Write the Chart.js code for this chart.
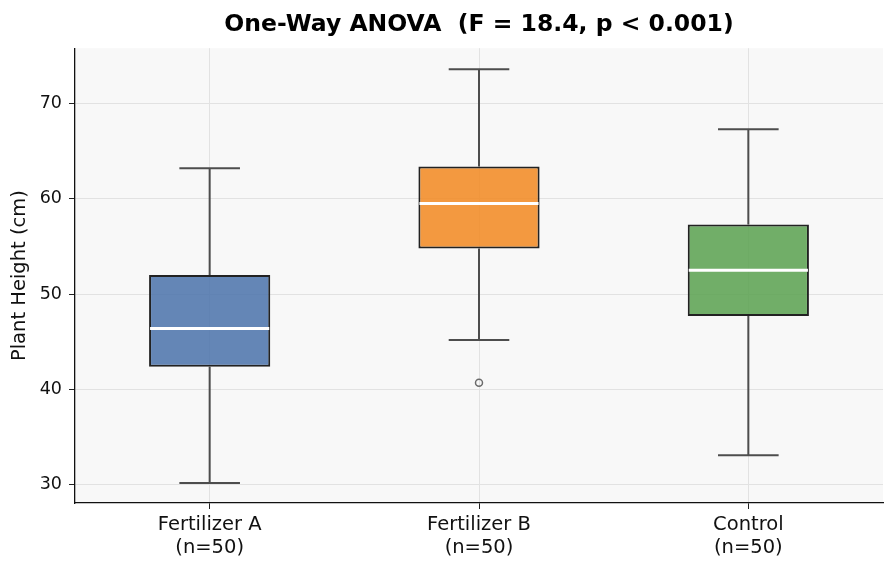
<!doctype html>
<html lang="en">
  <head>
    <meta charset="UTF-8" />
    <title>One-Way ANOVA box plot</title>
    <script src="https://cdn.jsdelivr.net/npm/chart.js"></script>
    <style>
      html, body { margin: 0; padding: 0; background: #fff; }
      .chart-container { position: relative; width: 896px; height: 570px; }
    </style>
  </head>
  <body>
    <div class="chart-container">
      <canvas id="anovaChart"></canvas>
    </div>

    <script>
      // groups and box statistics
      const groups = ['Fertilizer A', 'Fertilizer B', 'Control']
      const groupSizes = [50, 50, 50]
      const whiskerLow = [30.2, 45.2, 33.1]
      const q1 = [42.4, 54.8, 47.7]
      const medians = [46.4, 59.5, 52.5]
      const q3 = [52.0, 63.4, 57.3]
      const whiskerHigh = [63.2, 73.6, 67.3]
      const outliers = [null, 40.7, null]
      const yTicks = [30, 40, 50, 60, 70]

      const boxColors = [
        'rgba(74, 114, 170, 0.85)',
        'rgba(242, 142, 43, 0.9)',
        'rgba(89, 161, 79, 0.85)'
      ]

      const plotBackground = {
        id: 'plotBackground',
        beforeDraw: (chart) => {
          const { ctx, chartArea: a } = chart
          ctx.save()
          ctx.fillStyle = '#f8f8f8'
          ctx.fillRect(a.left, a.top, a.right - a.left, a.bottom - a.top)
          ctx.restore()
        }
      }

      // whiskers go behind the boxes, medians on top
      const boxExtras = {
        id: 'boxExtras',
        beforeDatasetsDraw: (chart) => {
          const ctx = chart.ctx
          const y = chart.scales.y
          const meta = chart.getDatasetMeta(0)
          ctx.save()
          ctx.strokeStyle = '#4d4d4d'
          ctx.lineWidth = 2
          meta.data.forEach(function (bar, i) {
            const cap = bar.width / 4
            const lo = y.getPixelForValue(whiskerLow[i])
            const hi = y.getPixelForValue(whiskerHigh[i])
            ctx.beginPath()
            ctx.moveTo(bar.x, lo)
            ctx.lineTo(bar.x, y.getPixelForValue(q1[i]))
            ctx.moveTo(bar.x, y.getPixelForValue(q3[i]))
            ctx.lineTo(bar.x, hi)
            ctx.moveTo(bar.x - cap, lo)
            ctx.lineTo(bar.x + cap, lo)
            ctx.moveTo(bar.x - cap, hi)
            ctx.lineTo(bar.x + cap, hi)
            ctx.stroke()
          })
          ctx.restore()
        },
        afterDatasetsDraw: (chart) => {
          const ctx = chart.ctx
          const y = chart.scales.y
          const meta = chart.getDatasetMeta(0)
          ctx.save()
          ctx.strokeStyle = '#ffffff'
          ctx.lineWidth = 3
          meta.data.forEach(function (bar, i) {
            const my = y.getPixelForValue(medians[i])
            ctx.beginPath()
            ctx.moveTo(bar.x - bar.width / 2 + 1, my)
            ctx.lineTo(bar.x + bar.width / 2 - 1, my)
            ctx.stroke()
          })
          ctx.restore()
        }
      }

      const ctx = document.getElementById('anovaChart').getContext('2d')
      new Chart(ctx, {
        data: {
          labels: groups,
          datasets: [
            {
              type: 'bar',
              label: 'IQR',
              data: groups.map((g, i) => [q1[i], q3[i]]),
              backgroundColor: boxColors,
              borderColor: '#222222',
              borderWidth: 2,
              borderSkipped: false,
              barPercentage: 0.45,
              categoryPercentage: 1.0,
              order: 2
            },
            {
              type: 'line',
              label: 'Outliers',
              data: outliers,
              showLine: false,
              pointRadius: 3.5,
              pointBackgroundColor: 'rgba(0,0,0,0)',
              pointBorderColor: '#6b6b6b',
              pointBorderWidth: 1.5,
              order: 1
            }
          ]
        },
        options: {
          responsive: true,
          maintainAspectRatio: false,
          animation: false,
          layout: { padding: { left: 0, right: 13, top: 0, bottom: 0 } },
          plugins: {
            legend: { display: false },
            tooltip: { enabled: false },
            title: {
              display: true,
              fullSize: false,
              text: 'One-Way ANOVA  (F = 18.4, p < 0.001)',
              color: '#000',
              font: { family: 'DejaVu Sans', size: 23.5, weight: 'bold' },
              padding: { top: 11, bottom: 9 }
            }
          },
          scales: {
            x: {
              type: 'category',
              offset: true,
              grid: {
                offset: false,
                color: '#e2e2e2',
                lineWidth: 1,
                tickColor: '#222',
                tickLength: 6
              },
              border: { display: true, color: '#111', width: 1.3 },
              ticks: {
                color: '#111',
                padding: 5,
                font: { family: 'DejaVu Sans', size: 19.5, lineHeight: 1.15 },
                callback: function (v, i) {
                  return [groups[i], '(n=' + groupSizes[i] + ')']
                }
              },
              afterFit: (s) => { s.height = 67 }
            },
            y: {
              min: 28.1,
              max: 75.8,
              afterBuildTicks: (s) => { s.ticks = yTicks.map((v) => ({ value: v })) },
              grid: {
                color: '#e2e2e2',
                lineWidth: 1,
                tickColor: '#222',
                tickLength: 6
              },
              border: { display: true, color: '#111', width: 1.3 },
              ticks: {
                color: '#111',
                padding: 7,
                font: { family: 'DejaVu Sans', size: 17.5 }
              },
              title: {
                display: true,
                text: 'Plant Height (cm)',
                color: '#111',
                font: { family: 'DejaVu Sans', size: 19.5 },
                padding: { top: 8, bottom: 0 }
              },
              afterFit: (s) => { s.width = 75 }
            }
          }
        },
        plugins: [plotBackground, boxExtras]
      })
    </script>
  </body>
</html>
